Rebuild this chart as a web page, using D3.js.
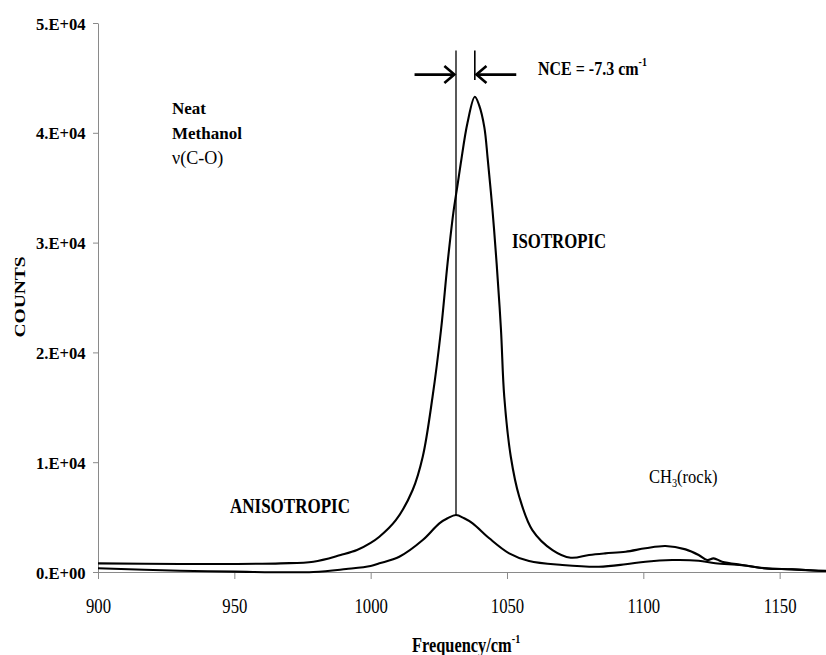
<!DOCTYPE html>
<html>
<head>
<meta charset="utf-8">
<script src="https://cdn.jsdelivr.net/npm/d3@7/dist/d3.min.js"></script>
<style>
  html, body { margin: 0; padding: 0; background: #fff; }
  svg { display: block; }
  svg text { font-family: "Liberation Serif", "Times New Roman", Times, "DejaVu Serif", serif !important; fill: #000; }
</style>
</head>
<body>
<svg id="chart" width="826" height="655"></svg>
<script>
// Raman spectrum of neat methanol, C-O stretch region
const isoFreq = [900, 930, 950, 967, 979, 989, 995, 1000, 1003.2, 1009.3, 1015.4, 1019.1, 1022.7, 1025.8, 1028.2, 1030.3, 1031.9, 1033.1, 1035.5, 1038.2, 1039.8, 1041.7, 1042.9, 1044.7, 1046.2, 1047.8, 1049.0, 1051.4, 1054.5, 1059.3, 1066.7, 1073.4, 1080.1, 1086, 1093.5, 1100.8, 1108.1, 1115.5, 1120.3, 1123.4, 1125.8, 1128.9, 1136.2, 1144.8, 1154.5, 1164.2, 1167];
const isoCounts = [790, 730, 730, 790, 940, 1550, 2000, 2650, 3210, 4740, 7470, 10500, 15960, 22040, 28110, 32670, 35300, 37300, 40900, 43290, 42500, 40500, 37700, 32900, 28110, 22040, 15960, 10500, 6860, 3820, 2000, 1300, 1550, 1700, 1850, 2160, 2370, 2060, 1550, 1090, 1240, 940, 640, 340, 250, 120, 100];

const anisoFreq = [900, 930, 950, 979, 991, 1000, 1003.2, 1010.5, 1019.1, 1025.2, 1028.2, 1031.3, 1034.3, 1037.4, 1043.5, 1050.8, 1058.1, 1070.3, 1083.7, 1093.5, 1100.8, 1110.6, 1120.3, 1126.4, 1136.2, 1144.8, 1154.5, 1164.2, 1167];
const anisoCounts = [340, 120, 30, 0, 270, 550, 790, 1390, 2910, 4430, 4890, 5190, 4890, 4430, 3070, 1700, 1000, 640, 480, 700, 940, 1090, 1030, 790, 620, 330, 240, 110, 90];

const xTicks = [900, 950, 1000, 1050, 1100, 1150];
const yTicks = [0, 10000, 20000, 30000, 40000, 50000];
const yTickLabels = ["0.E+00", "1.E+04", "2.E+04", "3.E+04", "4.E+04", "5.E+04"];

// peak positions marked by vertical lines (cm-1) and the NCE arrows
const anisoPeak = 1031.3;
const isoPeak = 1038.2;
const markerTop = 47500;
const isoMarkerBottom = 44800;
const arrowLevel = 45300;
const arrowLen = 15.2; // cm-1, length of each arrow shaft

const svg = d3.select("#chart");
const margin = { left: 98, right: 0, top: 23, bottom: 83 };
const W = 826, H = 655;

const x = d3.scaleLinear().domain([900, 1167]).range([margin.left, W - margin.right]);
const y = d3.scaleLinear().domain([0, 50000]).range([H - margin.bottom, margin.top]);

const axisColor = "#8a8a8a";

// y axis
const yAxis = svg.append("g")
  .attr("transform", `translate(${margin.left},0)`)
  .call(d3.axisLeft(y).tickValues(yTicks).tickSize(5).tickSizeOuter(0)
    .tickFormat((d, i) => yTickLabels[i]));
yAxis.attr("font-family", null);
yAxis.select(".domain").attr("stroke", axisColor);
yAxis.selectAll(".tick line").attr("stroke", axisColor);
yAxis.selectAll(".tick text")
  .attr("x", -13).attr("dy", "0.35em")
  .attr("transform", "scale(0.95,1)")
  .style("font-weight", "bold").style("font-size", "17.5px");

// x axis
const xAxis = svg.append("g")
  .attr("transform", `translate(0,${y(0)})`)
  .call(d3.axisBottom(x).tickValues(xTicks).tickSize(7).tickSizeOuter(0).tickFormat(d3.format("d")));
xAxis.attr("font-family", null);
xAxis.select(".domain").attr("stroke", axisColor);
xAxis.selectAll(".tick line").attr("stroke", axisColor);
xAxis.selectAll(".tick text")
  .attr("y", 41).attr("dy", 0)
  .attr("transform", "scale(0.76,1)")
  .style("font-size", "22px");

// spectra
const line = d3.line().x(d => x(d[0])).y(d => y(d[1])).curve(d3.curveCatmullRom.alpha(0.5));
const iso = isoFreq.map((f, i) => [f, isoCounts[i]]);
const aniso = anisoFreq.map((f, i) => [f, anisoCounts[i]]);

[iso, aniso].forEach(s => {
  svg.append("path").datum(s)
    .attr("fill", "none").attr("stroke", "#000")
    .attr("stroke-width", 2.1).attr("stroke-linejoin", "round")
    .attr("d", line);
});

// peak marker lines
svg.append("line")
  .attr("x1", x(anisoPeak)).attr("x2", x(anisoPeak))
  .attr("y1", y(markerTop)).attr("y2", y(5190))
  .attr("stroke", "#000").attr("stroke-width", 1.3);
svg.append("line")
  .attr("x1", x(isoPeak)).attr("x2", x(isoPeak))
  .attr("y1", y(markerTop)).attr("y2", y(isoMarkerBottom))
  .attr("stroke", "#000").attr("stroke-width", 1.6);

// arrows pointing at the two peak lines
function arrow(fromF, toF) {
  const x1 = x(fromF), x2 = x(toF), yy = y(arrowLevel);
  const dir = Math.sign(x2 - x1);
  const g = svg.append("g").attr("stroke", "#000").attr("stroke-width", 2.6)
    .attr("fill", "none").attr("stroke-linecap", "butt");
  g.append("line").attr("x1", x1).attr("x2", x2 - dir * 1).attr("y1", yy).attr("y2", yy);
  g.append("path").attr("d", `M${x2 - dir * 10},${yy - 8.5} L${x2},${yy} L${x2 - dir * 10},${yy + 8.5}`);
}
arrow(anisoPeak - arrowLen, anisoPeak - 0.6);
arrow(isoPeak + arrowLen, isoPeak + 0.6);

// text helper: horizontally condensed serif labels
function label(px, py, parts, opts) {
  const o = Object.assign({ size: 18, sx: 1, weight: "bold", anchor: "start", rotate: 0 }, opts);
  const t = svg.append("text")
    .attr("transform", `translate(${px},${py}) scale(${o.sx},1)` + (o.rotate ? ` rotate(${o.rotate})` : ""))
    .attr("text-anchor", o.anchor)
    .style("font-size", o.size + "px")
    .style("font-weight", o.weight);
  parts.forEach(p => {
    const ts = t.append("tspan").text(p.t);
    if (p.sup) ts.attr("dy", -o.size * 0.45).style("font-size", (o.size * 0.62) + "px");
    if (p.sub) ts.attr("dy", o.size * 0.2).style("font-size", (o.size * 0.62) + "px");
    if (p.back) ts.attr("dy", p.back);
  });
  return t;
}

label(538, 75, [{ t: "NCE = -7.3 cm" }, { t: "-1", sup: true }], { size: 19.5, sx: 0.82 });
label(172, 114, [{ t: "Neat" }], { size: 17 });
label(172, 139, [{ t: "Methanol" }], { size: 17 });
label(172, 164, [{ t: "ν(C-O)" }], { size: 19, weight: "normal", sx: 0.95 });
label(512, 248, [{ t: "ISOTROPIC" }], { size: 21, sx: 0.8 });
label(230, 513, [{ t: "ANISOTROPIC" }], { size: 21, sx: 0.81 });
label(649, 483, [{ t: "CH" }, { t: "3", sub: true }, { t: "(rock)", back: -19 * 0.2 }], { size: 19, weight: "normal", sx: 0.87 });
label(412, 652, [{ t: "Frequency/cm" }, { t: "-1", sup: true }], { size: 21, sx: 0.78 });
label(25, 297, [{ t: "COUNTS" }], { size: 19.5, sx: 0.77, anchor: "middle", rotate: -90 });
</script>
</body>
</html>
